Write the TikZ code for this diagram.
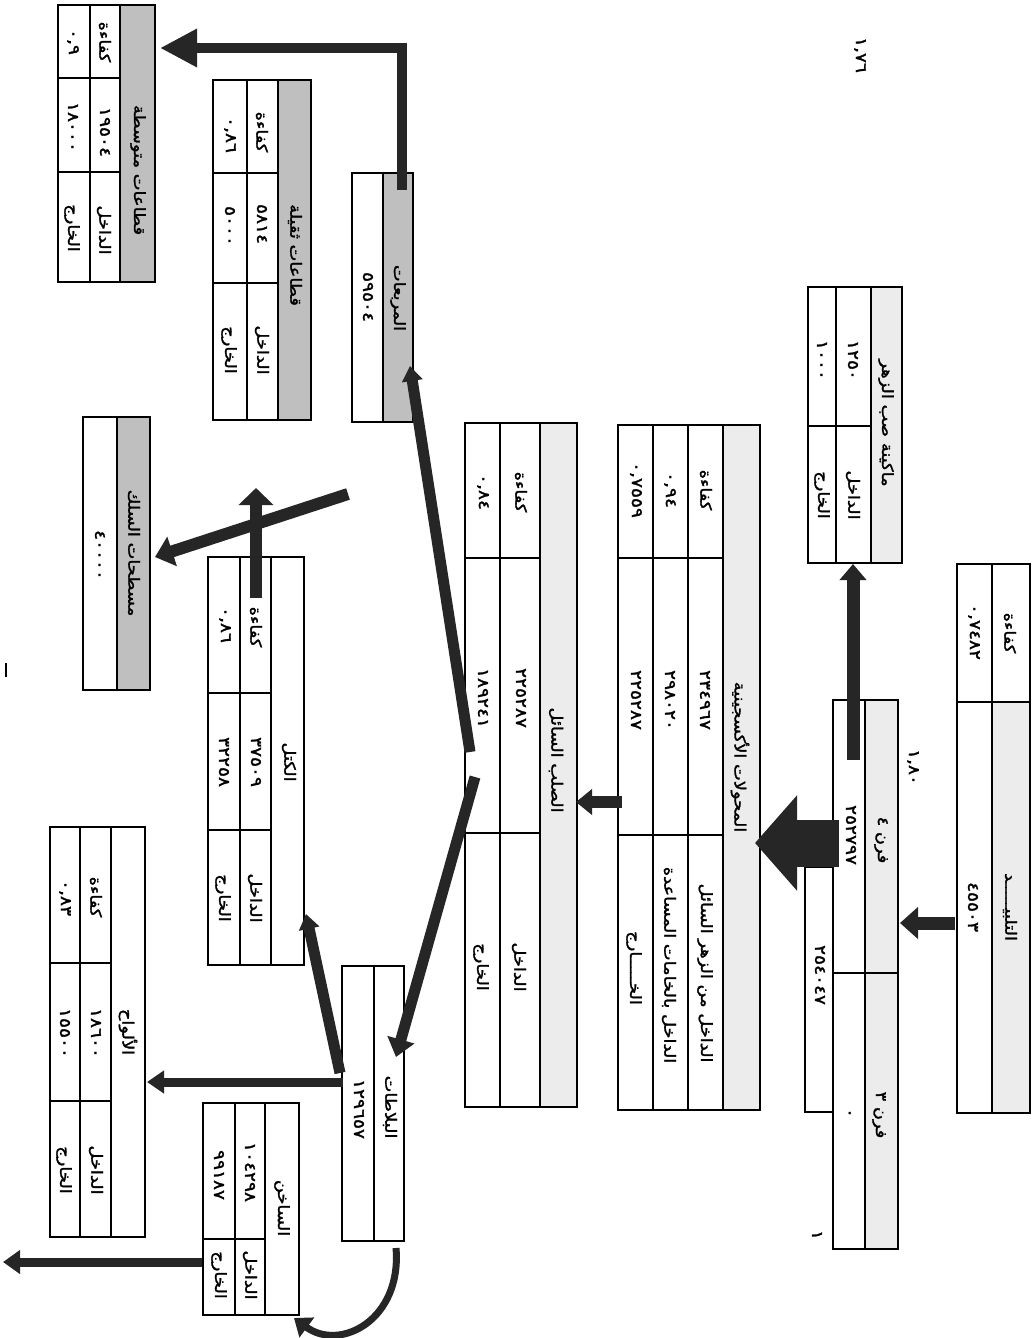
\documentclass[tikz,border=0pt]{standalone}
\usepackage{fontspec}
\newfontfamily\arabicfont[Script=Arabic,FakeBold=1.6]{DejaVu Sans}
\TeXXeTstate=1
\usetikzlibrary{arrows.meta,fit}
\newcommand{\ar}[1]{\scalebox{1.15}[1]{\arabicfont\beginR #1\endR}}
\newcommand{\nm}[1]{\scalebox{1.2}[1]{\arabicfont #1}}
\begin{document}
\begin{tikzpicture}[x=1pt,y=-1pt,
  box/.style={draw, line width=1.8pt, inner sep=0pt},
  sep/.style={line width=1.4pt},
  hd/.style={fill=gray!50},
  lt/.style={fill=gray!15},
  tx/.style={rotate=-90, inner sep=0pt, font=\fontsize{15.5}{18}\selectfont},
  arr/.style={draw=black!85, line width=12pt, -{Triangle[length=18pt,width=28pt]}},
]
\useasboundingbox[fill=white] (0,0) rectangle (1033,1338);

% ---------- Medium sections
\fill[hd] (120,5) rectangle (155,282);
\draw[sep] (90,5) -- (90,282) (120,5) -- (120,282) (58,78) -- (120,78) (58,172) -- (120,172);
\node[box, fit={(58,5)(155,282)}] (qm) {};
\node[tx] (qmH) at (138,170) {\ar{قطاعات متوسطة}};
\node[tx] (qmE) at (105,42) {\ar{كفاءة}};
\node[tx] (qmI) at (105,132) {\nm{١٩٥٠٤}};
\node[tx] (qmIL) at (104,230) {\ar{الداخل}};
\node[tx] (qmEv) at (73,42) {\nm{٠,٩}};
\node[tx] (qmO) at (73,127) {\nm{١٨٠٠٠}};
\node[tx] (qmOL) at (72,228) {\ar{الخارج}};

% ---------- Heavy sections
\fill[hd] (278,80) rectangle (311,420);
\draw[sep] (247,80) -- (247,420) (278,80) -- (278,420) (213,173) -- (278,173) (213,283) -- (278,283);
\node[box, fit={(213,80)(311,420)}] (qt) {};
\node[tx] (qtH) at (295,255) {\ar{قطاعات ثقيلة}};
\node[tx] (qtE) at (262,132) {\ar{كفاءة}};
\node[tx] (qtI) at (262,224) {\nm{٥٨١٤}};
\node[tx] (qtIL) at (262,350) {\ar{الداخل}};
\node[tx] (qtEv) at (230,135) {\nm{٠,٨٦}};
\node[tx] (qtO) at (230,226) {\nm{٥٠٠٠}};
\node[tx] (qtOL) at (229,350) {\ar{الخارج}};

% ---------- Squares
\fill[hd] (383,173) rectangle (413,422);
\draw[sep] (383,173) -- (383,422);
\node[box, fit={(352,173)(413,422)}] (mr) {};
\node[tx] (mrH) at (398,298) {\ar{المربعات}};
\node[tx] (mrV) at (368,297) {\nm{٥٩٥٠٤}};

% ---------- Wire
\fill[hd] (117,417) rectangle (150,690);
\draw[sep] (117,417) -- (117,690);
\node[box, fit={(83,417)(150,690)}] (ws) {};
\node[tx] (wsH) at (134,553) {\ar{مسطحات السلك}};
\node[tx] (wsV) at (100,555) {\nm{٤٠٠٠٠}};

% ---------- Pig casting machine
\fill[lt] (871,287) rectangle (902,563);
\draw[sep] (836,287) -- (836,563) (871,287) -- (871,563) (808,426) -- (871,426);
\node[box, fit={(808,287)(902,563)}] (pc) {};
\node[tx] (pcH) at (886,423) {\ar{ماكينة صب الزهر}};
\node[tx] (pcI) at (853,360) {\nm{١٢٥٠}};
\node[tx] (pcIL) at (853,495) {\ar{الداخل}};
\node[tx] (pcO) at (822,360) {\nm{١٠٠٠}};
\node[tx] (pcOL) at (822,495) {\ar{الخارج}};

% ---------- Sintering
\fill[lt] (992,702) rectangle (1030,1113);
\draw[sep] (992,564) -- (992,1113) (957,702) -- (1030,702);
\node[box, fit={(957,564)(1030,1113)}] (sn) {};
\node[tx] (snE) at (1010,633) {\ar{كفاءة}};
\node[tx] (snEv) at (974,632) {\nm{٠,٧٤٨٢}};
\node[tx] (snH) at (1010,907) {\ar{التلبيـــــد}};
\node[tx] (snV) at (973,907) {\nm{٤٥٥٠٣}};

% ---------- Furnaces
\fill[lt] (865,700) rectangle (898,1249);
\draw[sep] (865,700) -- (865,1249) (833,973) -- (898,973);
\node[box, fit={(833,700)(898,1249)}] (fr) {};
\node[box, fit={(805,867)(833,1112)}] (fr2) {};
\node[tx] (fr4) at (881,840) {\ar{فرن ٤}};
\node[tx] (fr4v) at (851,835) {\nm{٢٥٢٧٩٧}};
\node[tx] (fr3) at (879,1115) {\ar{فرن ٣}};
\node[tx] (fr3v) at (848,1113) {\nm{٠}};
\node[tx] (fr2v) at (820,975) {\nm{٢٥٤٠٤٧}};
\node[tx] (frK) at (913,767) {\nm{١,٨٠}};
\node[tx] (frOne) at (817,1235) {\nm{١}};
\node[tx] (topK) at (860,55) {\nm{١,٧٦}};

% ---------- Converters
\fill[lt] (723,425) rectangle (760,1110);
\draw[sep] (653,425) -- (653,1110) (688,425) -- (688,1110) (723,425) -- (723,1110)
  (618,558) -- (723,558) (618,835) -- (723,835);
\node[box, fit={(618,425)(760,1110)}] (cv) {};
\node[tx] (cvH) at (740,757) {\ar{المحولات الأكسجينية}};
\node[tx] (cvE) at (706,490) {\ar{كفاءة}};
\node[tx] (cvI1) at (705,700) {\nm{٢٣٤٩٦٧}};
\node[tx] (cvI1L) at (705,973) {\ar{الداخل من الزهر السائل}};
\node[tx] (cvE1) at (670,490) {\nm{٠,٩٤}};
\node[tx] (cvI2) at (670,700) {\nm{٢٩٨٠٢٠}};
\node[tx] (cvI2L) at (669,965) {\ar{الداخل بالخامات المساعدة}};
\node[tx] (cvE2) at (636,490) {\nm{٠,٧٥٥٩}};
\node[tx] (cvO) at (636,700) {\nm{٢٢٥٢٨٧}};
\node[tx] (cvOL) at (634,968) {\ar{الخـــــارج}};

% ---------- Liquid steel
\fill[lt] (540,423) rectangle (577,1107);
\draw[sep] (500,423) -- (500,1107) (540,423) -- (540,1107)
  (465,558) -- (540,558) (465,833) -- (540,833);
\node[box, fit={(465,423)(577,1107)}] (ls) {};
\node[tx] (lsH) at (556,760) {\ar{الصلب السائل}};
\node[tx] (lsE) at (521,492) {\ar{كفاءة}};
\node[tx] (lsI) at (521,698) {\nm{٢٢٥٢٨٧}};
\node[tx] (lsIL) at (519,967) {\ar{الداخل}};
\node[tx] (lsEv) at (483,492) {\nm{٠,٨٤}};
\node[tx] (lsO) at (483,698) {\nm{١٨٩٢٤١}};
\node[tx] (lsOL) at (481,967) {\ar{الخارج}};

% ---------- Blooms
\draw[sep] (240,557) -- (240,965) (271,557) -- (271,965) (208,693) -- (271,693) (208,830) -- (271,830);
\node[box, fit={(208,557)(304,965)}] (kt) {};
\node[tx] (ktH) at (289,762) {\ar{الكتل}};
\node[tx] (ktE) at (256,627) {\ar{كفاءة}};
\node[tx] (ktI) at (256,762) {\nm{٣٧٥٠٩}};
\node[tx] (ktIL) at (255,898) {\ar{الداخل}};
\node[tx] (ktEv) at (225,625) {\nm{٠,٨٦}};
\node[tx] (ktO) at (224,762) {\nm{٣٢٢٥٨}};
\node[tx] (ktOL) at (223,898) {\ar{الخارج}};

% ---------- Plates
\draw[sep] (80,827) -- (80,1237) (111,827) -- (111,1237) (50,963) -- (111,963) (50,1101) -- (111,1101);
\node[box, fit={(50,827)(145,1237)}] (pl) {};
\node[tx] (plH) at (128,1032) {\ar{الألواح}};
\node[tx] (plE) at (96,897) {\ar{كفاءة}};
\node[tx] (plI) at (96,1033) {\nm{١٨٦٠٠}};
\node[tx] (plIL) at (96,1170) {\ar{الداخل}};
\node[tx] (plEv) at (65,898) {\nm{٠,٨٣}};
\node[tx] (plO) at (65,1033) {\nm{١٥٥٠٠}};
\node[tx] (plOL) at (64,1170) {\ar{الخارج}};

% ---------- Hot rolling
\draw[sep] (235,1103) -- (235,1315) (265,1103) -- (265,1315) (203,1239) -- (265,1239);
\node[box, fit={(203,1103)(299,1315)}] (hs) {};
\node[tx] (hsH) at (282,1208) {\ar{الساخن}};
\node[tx] (hsI) at (250,1172) {\nm{١٠٤٢٩٨}};
\node[tx] (hsIL) at (250,1275) {\ar{الداخل}};
\node[tx] (hsO) at (219,1175) {\nm{٩٩١٨٧}};
\node[tx] (hsOL) at (219,1275) {\ar{الخارج}};

% ---------- Slabs
\draw[sep] (374,966) -- (374,1241);
\node[box, fit={(342,966)(404,1241)}] (bl) {};
\node[tx] (blH) at (390,1107) {\ar{البلاطات}};
\node[tx] (blV) at (359,1109) {\nm{١٢٩٦٥٧}};

% stray mark
\draw[line width=1.5pt] (6,663) -- (6,677);

% ---------- connectors
\coordinate (snOut) at (955,923);
\coordinate (frIn) at (900,923);
\draw[arr, line width=13pt, -{Triangle[length=18pt,width=31pt]}] (snOut) -- (frIn);

\coordinate (frUp) at (853,760);
\coordinate (pcIn) at (853,564);
\draw[arr, line width=13pt, -{Triangle[length=16pt,width=26pt]}] (frUp) -- (pcIn);

\coordinate (frOut) at (839,843);
\coordinate (cvIn) at (755,843);
\draw[draw=black!85, line width=47pt, -{Triangle[length=42pt,width=93pt]}] (frOut) -- (cvIn);

\coordinate (cvOut) at (622,802);
\coordinate (lsIn) at (576,802);
\draw[arr, line width=12pt, -{Triangle[length=16pt,width=25pt]}] (cvOut) -- (lsIn);

\coordinate (lsOutA) at (470,752);
\coordinate (mrIn) at (410,366);
\draw[arr, line width=11pt, -{Triangle[length=15pt,width=20pt]}] (lsOutA) -- (mrIn);

\coordinate (lsOutB) at (475,777);
\coordinate (blIn) at (396,1057);
\draw[arr, line width=11pt, -{Triangle[length=18pt,width=27pt]}] (lsOutB) -- (blIn);

\coordinate (mrOut) at (402,190);
\coordinate (mrBend) at (402,48);
\coordinate (qmIn) at (160,48);
\draw[arr, line width=10pt, line join=miter, -{Triangle[length=37pt,width=36pt]}] (mrOut) -- (mrBend) -- (qmIn);

\coordinate (blOutK) at (340,1073);
\coordinate (ktIn) at (306,914);
\draw[arr, line width=11pt, -{Triangle[length=15pt,width=20pt]}] (blOutK) -- (ktIn);

\coordinate (blOutP) at (343,1082);
\coordinate (plIn) at (147,1082);
\draw[arr, line width=9pt, -{Triangle[length=17pt,width=22pt]}] (blOutP) -- (plIn);

\coordinate (blOutH) at (396,1248);
\coordinate (hsIn) at (294,1318);
\draw[arr, line width=7pt, -{Triangle[length=16pt,width=24pt]}] (blOutH) .. controls (402,1320) and (340,1352) .. (hsIn);

\coordinate (hsOut) at (202,1262);
\coordinate (exitP) at (3,1262);
\draw[arr, line width=9pt, -{Triangle[length=17pt,width=23pt]}] (hsOut) -- (exitP);

\coordinate (ktOut) at (256,598);
\coordinate (ktUp) at (256,488);
\draw[arr, line width=12pt, -{Triangle[length=17pt,width=34pt]}] (ktOut) -- (ktUp);

\coordinate (diagS) at (348,494);
\coordinate (wsIn) at (155,557);
\draw[arr, line width=12pt, -{Triangle[length=18pt,width=30pt]}] (diagS) -- (wsIn);
\end{tikzpicture}
\end{document}
